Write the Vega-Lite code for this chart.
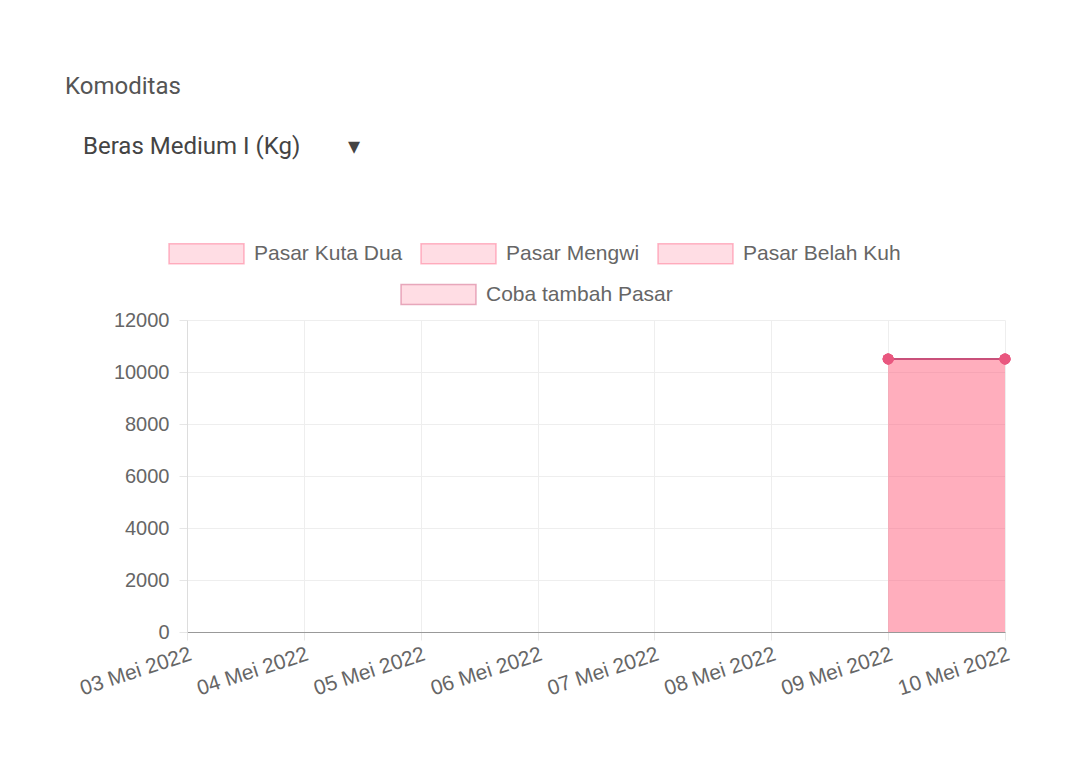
{
  "$schema": "https://vega.github.io/schema/vega-lite/v6.json",
  "width": 818,
  "height": 312,
  "autosize": {"type": "none"},
  "padding": {"left": 187, "top": 320, "right": 66, "bottom": 133},
  "background": "white",
  "title": {
    "text": "Komoditas",
    "subtitle": "\u2800Beras Medium I (Kg)\u00a0\u00a0\u00a0\u00a0\u00a0\u00a0\u00a0\u00a0\u25be",
    "anchor": "start",
    "frame": "group",
    "dx": -122,
    "offset": 56,
    "font": "Roboto",
    "fontSize": 24,
    "fontWeight": "normal",
    "color": "#555555",
    "subtitleFont": "Roboto",
    "subtitleFontSize": 24,
    "subtitleColor": "#444444",
    "subtitlePadding": 36
  },
  "data": {
    "values": [
      {"tanggal": "09 Mei 2022", "pasar": "Pasar Kuta Dua", "harga": 10500},
      {"tanggal": "10 Mei 2022", "pasar": "Pasar Kuta Dua", "harga": 10500},
      {"tanggal": "09 Mei 2022", "pasar": "Pasar Mengwi", "harga": 10500},
      {"tanggal": "10 Mei 2022", "pasar": "Pasar Mengwi", "harga": 10500},
      {"tanggal": "09 Mei 2022", "pasar": "Pasar Belah Kuh", "harga": 10500},
      {"tanggal": "10 Mei 2022", "pasar": "Pasar Belah Kuh", "harga": 10500},
      {"tanggal": "09 Mei 2022", "pasar": "Coba tambah Pasar", "harga": 10500},
      {"tanggal": "10 Mei 2022", "pasar": "Coba tambah Pasar", "harga": 10500}
    ]
  },
  "encoding": {
    "x": {
      "field": "tanggal",
      "type": "ordinal",
      "sort": null,
      "scale": {
        "type": "point",
        "padding": 0,
        "domain": ["03 Mei 2022", "04 Mei 2022", "05 Mei 2022", "06 Mei 2022", "07 Mei 2022", "08 Mei 2022", "09 Mei 2022", "10 Mei 2022"]
      },
      "axis": {
        "title": null,
        "labelAngle": -18,
        "labelFont": "Liberation Sans",
        "labelFontSize": 21,
        "labelColor": "#666666",
        "labelPadding": 3,
        "grid": true,
        "gridColor": "#eeeeee",
        "domainColor": "#999999",
        "tickColor": "#e6e6e6",
        "tickSize": 8
      }
    },
    "y": {
      "field": "harga",
      "type": "quantitative",
      "stack": null,
      "scale": {"domain": [0, 12000], "nice": false},
      "axis": {
        "title": null,
        "values": [0, 2000, 4000, 6000, 8000, 10000, 12000],
        "format": "d",
        "labelFont": "Liberation Sans",
        "labelFontSize": 20,
        "labelColor": "#666666",
        "labelPadding": 10,
        "grid": true,
        "gridColor": "#eeeeee",
        "domainColor": "#dddddd",
        "tickColor": "#e6e6e6",
        "tickSize": 8
      }
    }
  },
  "layer": [
    {
      "mark": {"type": "area", "fillOpacity": 0.17},
      "encoding": {
        "fill": {
          "field": "pasar",
          "type": "nominal",
          "scale": {
            "domain": ["Pasar Kuta Dua", "Pasar Mengwi", "Pasar Belah Kuh", "Coba tambah Pasar"],
            "range": ["#ff6384", "#ff6384", "#ff6384", "#ff6384"]
          },
          "legend": {
            "orient": "none",
            "legendX": -19,
            "legendY": -105,
            "direction": "horizontal",
            "title": null,
            "values": ["Pasar Kuta Dua", "Pasar Mengwi", "Pasar Belah Kuh"],
            "symbolType": "M-1,-0.2667H1V0.2667H-1Z",
            "symbolSize": 5625,
            "labelFont": "Liberation Sans",
            "labelFontSize": 21,
            "labelColor": "#666666",
            "labelOffset": 9,
            "labelLimit": 400,
            "columnPadding": 15,
            "encode": {
              "symbols": {
                "update": {
                  "fill": {"value": "#ff6384"},
                  "fillOpacity": {"value": 0.22},
                  "stroke": {"value": "#ff6384"},
                  "strokeOpacity": {"value": 0.45},
                  "strokeWidth": {"value": 1.5}
                }
              }
            }
          }
        }
      }
    },
    {
      "mark": {"type": "line", "strokeWidth": 2},
      "encoding": {
        "stroke": {
          "field": "pasar",
          "type": "nominal",
          "scale": {
            "domain": ["Coba tambah Pasar", "Pasar Kuta Dua", "Pasar Mengwi", "Pasar Belah Kuh"],
            "range": ["#c9507a", "#c9507a", "#c9507a", "#c9507a"]
          },
          "legend": {
            "orient": "none",
            "legendX": 213,
            "legendY": -64,
            "direction": "horizontal",
            "title": null,
            "values": ["Coba tambah Pasar"],
            "symbolType": "M-1,-0.2667H1V0.2667H-1Z",
            "symbolSize": 5625,
            "labelFont": "Liberation Sans",
            "labelFontSize": 21,
            "labelColor": "#666666",
            "labelOffset": 9,
            "labelLimit": 400,
            "encode": {
              "symbols": {
                "update": {
                  "fill": {"value": "#ff6384"},
                  "fillOpacity": {"value": 0.22},
                  "stroke": {"value": "#ff6384"},
                  "strokeOpacity": {"value": 0.45},
                  "strokeWidth": {"value": 1.5}
                }
              }
            }
          }
        }
      }
    },
    {
      "mark": {"type": "point", "filled": true, "size": 120, "color": "#e9577f", "opacity": 1}
    }
  ],
  "config": {
    "view": {"stroke": null}
  }
}
